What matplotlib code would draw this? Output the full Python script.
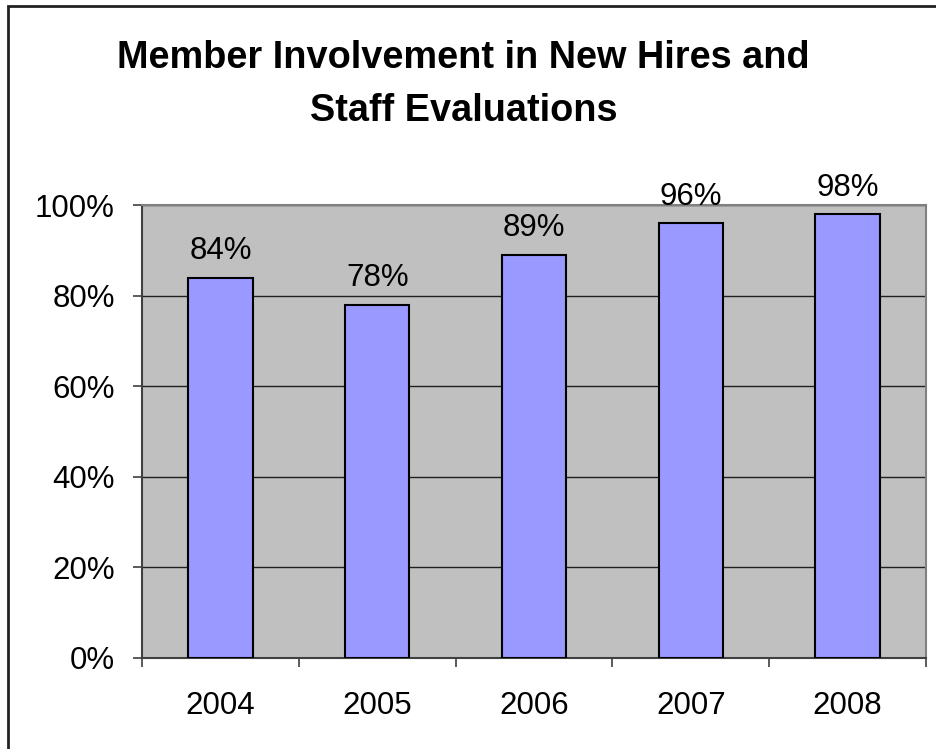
import matplotlib
matplotlib.use("Agg")
import matplotlib.pyplot as plt
from matplotlib.patches import Rectangle
from matplotlib.ticker import FixedLocator, PercentFormatter

plt.rcParams['font.family'] = ['Liberation Sans', 'DejaVu Sans']

years = ['2004', '2005', '2006', '2007', '2008']
involvement = [84, 78, 89, 96, 98]
y_ticks = [0, 20, 40, 60, 80, 100]
title_lines = ['Member Involvement in New Hires and', 'Staff Evaluations']

W, H = 937, 749
fig = plt.figure(figsize=(W / 100, H / 100), dpi=100)
fig.patch.set_facecolor('white')

# outer chart frame
fig.patches.append(Rectangle((8.5 / W, -0.05), 1.2, 1 - 5.5 / H + 0.05,
                             transform=fig.transFigure, fill=False,
                             edgecolor='#222222', linewidth=2.0, zorder=10))

ax = fig.add_axes([142 / W, 1 - 657.5 / H, (926 - 142) / W, (657.5 - 205.3) / H])
ax.set_facecolor('#C0C0C0')

x = list(range(len(years)))
bars = ax.bar(x, involvement, width=0.41, color='#9999FF',
              edgecolor='black', linewidth=1.5, zorder=3)

for xi, v in zip(x, involvement):
    ax.annotate(f'{v}%', (xi, v), xytext=(0, 13.4), textcoords='offset points',
                ha='center', va='baseline', fontsize=22.5, color='black')

ax.set_xlim(-0.5, len(years) - 0.5)
ax.set_ylim(0, 100)

ax.set_yticks(y_ticks)
ax.yaxis.set_major_formatter(PercentFormatter(decimals=0))
ax.yaxis.grid(True, color='#202020', linewidth=1.0, zorder=1)
ax.set_axisbelow(True)

ax.set_xticks(x)
ax.set_xticklabels(years)
ax.xaxis.set_minor_locator(FixedLocator([i - 0.5 for i in range(len(years) + 1)]))
ax.tick_params(axis='x', which='major', length=0, pad=24, labelsize=22.5)
ax.tick_params(axis='x', which='minor', length=6.5, width=1.2,
               color='#404040', direction='out')
ax.tick_params(axis='y', which='major', length=6.5, width=1.2, color='#404040',
               direction='out', pad=13, labelsize=22.5)

for side in ['top', 'right']:
    ax.spines[side].set_color('#808080')
    ax.spines[side].set_linewidth(1.5)
for side in ['left', 'bottom']:
    ax.spines[side].set_color('#404040')
    ax.spines[side].set_linewidth(1.5)

# two-line bold title, each line placed on its own baseline
for line, base in zip(title_lines, [68, 121]):
    fig.text(463.5 / W, 1 - base / H, line, ha='center', va='baseline',
             fontsize=27.3, fontweight='bold')

fig.savefig('out.png', dpi=100)
